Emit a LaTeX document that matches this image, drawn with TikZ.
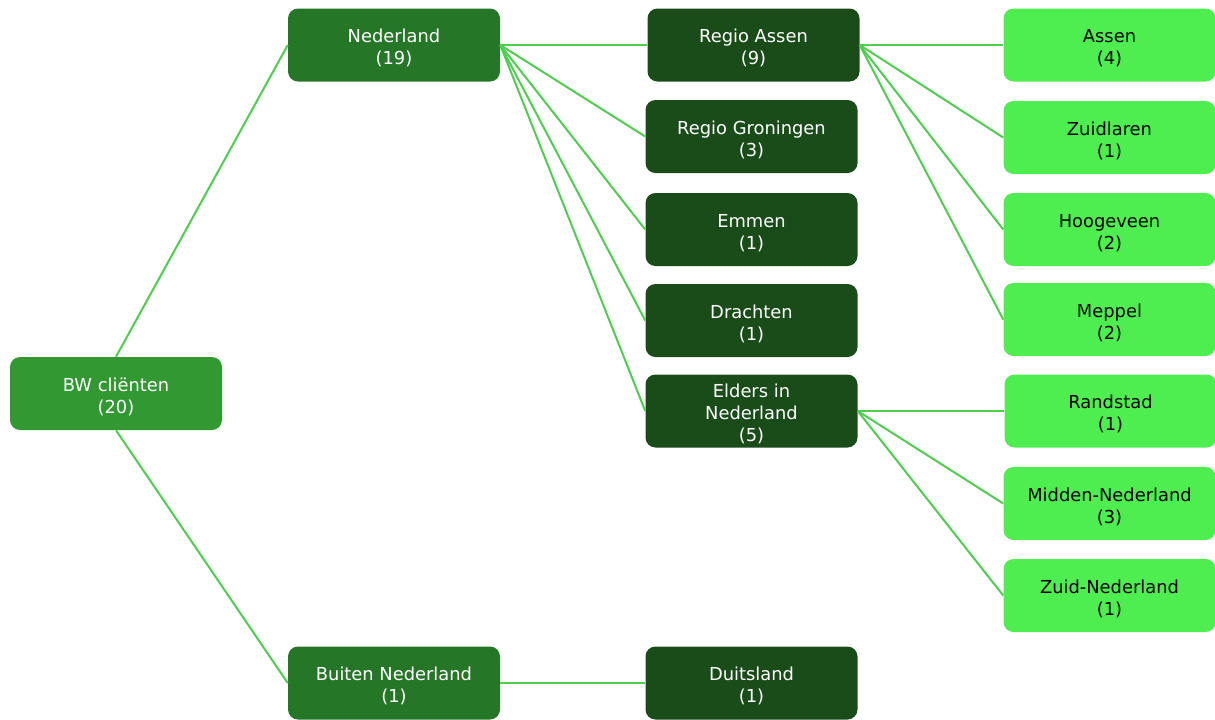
\documentclass[tikz,border=0pt]{standalone}
\usepackage{fontspec}
\setmainfont{DejaVu Sans}
\definecolor{rootcol}{HTML}{329832}
\definecolor{lvl1col}{HTML}{267628}
\definecolor{lvl2col}{HTML}{1A4C1A}
\definecolor{lvl3col}{HTML}{4EEE50}
\definecolor{edgecol}{HTML}{50CC50}
\newcommand{\topstrut}{\rule{0pt}{15pt}}
\tikzset{
	box/.style={rounded corners=7.5pt,minimum width=159pt,minimum height=54.75pt,
		align=center,inner sep=0pt,font=\fontsize{13.4}{16.5}\selectfont},
	rootbox/.style={box,fill=rootcol,text=white},
	lvlone/.style={box,fill=lvl1col,text=white},
	lvltwo/.style={box,fill=lvl2col,text=white},
	lvlthree/.style={box,fill=lvl3col,text=black},
	edge/.style={draw=edgecol,line width=1.5pt}
}
\begin{document}
\begin{tikzpicture}[x=0.75pt,y=-0.75pt]
\useasboundingbox (0,0) rectangle (1215,719);
\node[rootbox] (root) at (116,393.5) {\topstrut BW cliënten\\(20)};
\foreach \name/\x/\y/\label in {
	nl/394/45/{Nederland\\(19)},
	bnl/394/683/{Buiten Nederland\\(1)}%
	}{
	\node[lvlone] (\name) at (\x,\y) {\topstrut\label};
	}
\foreach \name/\x/\y/\label in {
	ra/753.5/45/{Regio Assen\\(9)},
	rg/751.5/136.5/{Regio Groningen\\(3)},
	em/751.5/229.5/{Emmen\\(1)},
	dr/751.5/320.5/{Drachten\\(1)},
	eln/751.5/411/{Elders in\\Nederland\\(5)},
	du/751.5/683/{Duitsland\\(1)}%
	}{
	\node[lvltwo] (\name) at (\x,\y) {\topstrut\label};
	}
\foreach \name/\x/\y/\label in {
	as/1109.5/45/{Assen\\(4)},
	zl/1109.5/137.5/{Zuidlaren\\(1)},
	hv/1109.5/229.5/{Hoogeveen\\(2)},
	mp/1109.5/319.5/{Meppel\\(2)},
	rs/1110.5/411/{Randstad\\(1)},
	mn/1109.5/503.5/{Midden-Nederland\\(3)},
	zn/1109.5/595.5/{Zuid-Nederland\\(1)}%
	}{
	\node[lvlthree] (\name) at (\x,\y) {\topstrut\label};
	}
% connectors go under the boxes
\begin{scope}[on background layer/.try]
\draw[edge] (root.north) -- (nl.west);
\draw[edge] (root.south) -- (bnl.west);
\foreach \a/\b in {nl/ra,nl/rg,nl/em,nl/dr,nl/eln,bnl/du,
	ra/as,ra/zl,ra/hv,ra/mp,eln/rs,eln/mn,eln/zn}{
	\draw[edge] (\a.east) -- (\b.west);
	}
\end{scope}
\end{tikzpicture}
\end{document}
